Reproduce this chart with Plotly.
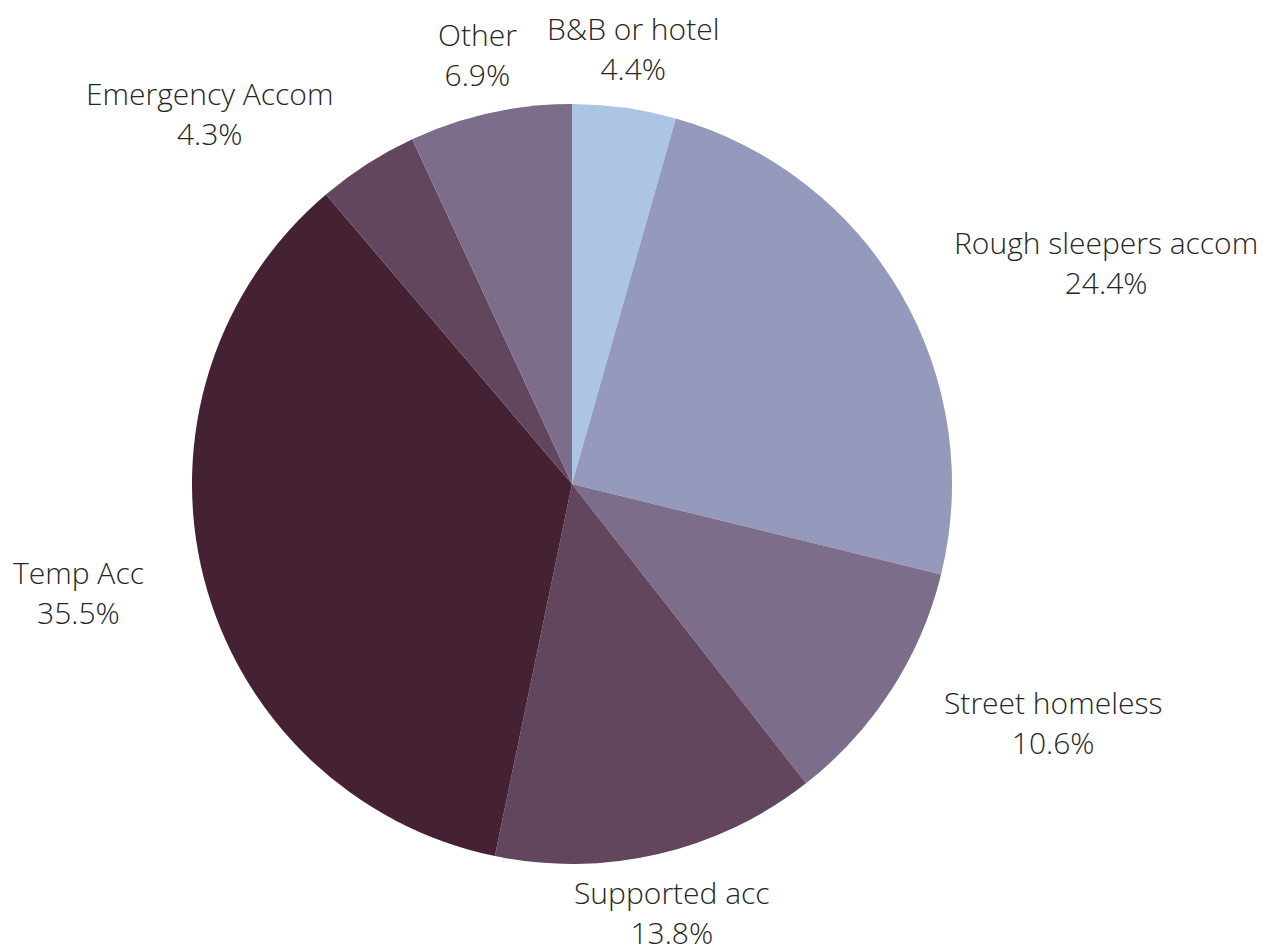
import math
import plotly.graph_objects as go

# Share of placements by accommodation type (%), clockwise from 12 o'clock
categories = [
    "B&B or hotel",
    "Rough sleepers accom",
    "Street homeless",
    "Supported acc",
    "Temp Acc",
    "Emergency Accom",
    "Other",
]
shares = [4.4, 24.4, 10.6, 13.8, 35.5, 4.3, 6.9]
colors = ["#adc5e4", "#9599bb", "#7c6d8b", "#62465e", "#452233", "#62465e", "#7c6d8b"]

W, H = 1276, 951
CX, CY, R = 572, 484, 380      # pie centre and radius in pixels
LABEL_R = 440                  # distance of label anchors from the centre
FONT = dict(family="Open Sans", size=30, color="#262626", weight=300)

fig = go.Figure(
    go.Pie(
        labels=categories,
        values=shares,
        sort=False,
        direction="clockwise",
        rotation=0,
        marker=dict(colors=colors, line=dict(width=0)),
        textinfo="none",
        hoverinfo="label+percent",
        domain=dict(
            x=[(CX - R) / W, (CX + R) / W],
            y=[(H - CY - R) / H, (H - CY + R) / H],
        ),
    )
)

# Category/percent labels placed just outside each slice's mid-angle
total = sum(shares)
cum = 0.0
annotations = []
for name, v in zip(categories, shares):
    mid = (cum + v / 2) / total
    cum += v
    theta = 2 * math.pi * mid
    ux, uy = math.sin(theta), -math.cos(theta)
    px = CX + LABEL_R * ux
    py = CY + LABEL_R * uy
    if abs(ux) < 0.3:
        xanchor = "center"
    else:
        xanchor = "left" if ux > 0 else "right"
    text = f"{name}<br><span style='baseline-shift:-1px'>{v:.1f}%</span>"
    annotations.append(
        dict(
            x=px / W,
            y=1 - py / H,
            xref="paper",
            yref="paper",
            text=text,
            showarrow=False,
            xanchor=xanchor,
            yanchor="middle",
            align="center",
            font=FONT,
        )
    )

fig.update_layout(
    width=W,
    height=H,
    margin=dict(l=0, r=0, t=0, b=0),
    paper_bgcolor="white",
    plot_bgcolor="white",
    showlegend=False,
    annotations=annotations,
)

fig.write_html("out.html")
